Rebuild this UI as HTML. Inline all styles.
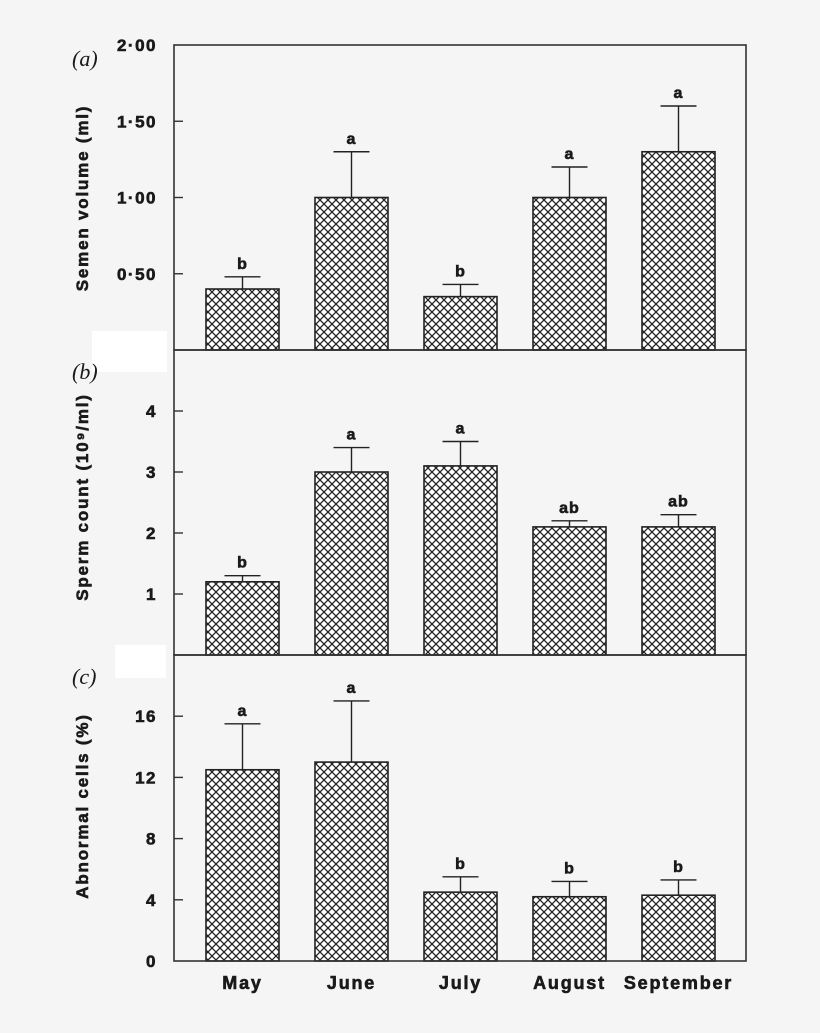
<!DOCTYPE html>
<html><head><meta charset="utf-8"><style>
html,body{margin:0;padding:0;background:#f5f5f5;}
svg{display:block;}
text{font-family:"Liberation Sans",Arial,sans-serif;font-weight:bold;fill:#1a1a1a;stroke:#1a1a1a;stroke-width:0.6;}
.pl{font-family:"Liberation Serif",serif;font-weight:normal;font-style:italic;font-size:22px;stroke:none;}
</style></head><body>
<svg id="chart" width="820" height="1033" viewBox="0 0 820 1033">
<defs>
<pattern id="hatch" patternUnits="userSpaceOnUse" width="8" height="8" x="0" y="0">
<rect width="8" height="8" fill="#fff"/>
<path d="M0,0 L8,8 M-1,7 L1,9 M7,-1 L9,1 M8,0 L0,8 M-1,1 L1,-1 M7,9 L9,7" stroke="#222" stroke-width="1.3"/>
</pattern>
</defs>
<rect x="92" y="331" width="75" height="41" fill="#fff"/>
<rect x="115" y="645" width="51" height="33" fill="#fff"/>
<g id="plots"></g>
</svg>
<script>
const categories = ["May","June","July","August","September"];
const volumeMeans = [0.40,1.00,0.35,1.00,1.30];
const volumeErr = [0.48,1.30,0.43,1.20,1.60];
const volumeLetters = ["b","a","b","a","a"];
const volumeTicks = [0.5,1.0,1.5,2.0];
const volumeTickLabels = ["0·50","1·00","1·50","2·00"];
const countMeans = [1.2,3.0,3.1,2.1,2.1];
const countErr = [1.3,3.4,3.5,2.2,2.3];
const countLetters = ["b","a","a","ab","ab"];
const countTicks = [1,2,3,4];
const countTickLabels = ["1","2","3","4"];
const abnMeans = [12.5,13.0,4.5,4.2,4.3];
const abnErr = [15.5,17.0,5.5,5.2,5.3];
const abnLetters = ["a","a","b","b","b"];
const abnTicks = [0,4,8,12,16];
const abnTickLabels = ["0","4","8","12","16"];

const NS="http://www.w3.org/2000/svg";
const g=document.getElementById('plots');
const L=174,R=746,barW=73,step=109,firstX=206;
function mk(tag,attrs,parent){const e=document.createElementNS(NS,tag);for(const k in attrs)e.setAttribute(k,attrs[k]);(parent||g).appendChild(e);return e;}
function xPos(i){return firstX+i*step;}

const panels=[
 {name:"volume",top:45,bottom:350,max:2.0,means:volumeMeans,err:volumeErr,letters:volumeLetters,ticks:volumeTicks,labels:volumeTickLabels,title:"Semen volume (ml)",pl:"(a)",plY:66,tY:198},
 {name:"count",top:350,bottom:655,max:5.0,means:countMeans,err:countErr,letters:countLetters,ticks:countTicks,labels:countTickLabels,title:"Sperm count (10⁹/ml)",pl:"(b)",plY:379,tY:497},
 {name:"abnormal",top:655,bottom:961,max:20.0,means:abnMeans,err:abnErr,letters:abnLetters,ticks:abnTicks,labels:abnTickLabels,title:"Abnormal cells (%)",pl:"(c)",plY:684,tY:806}
];

panels.forEach(p=>{
 const pg=mk('g',{});
 
 
 const y=v=>p.bottom-(v/p.max)*(p.bottom-p.top);
 p.means.forEach((m,i)=>{
  const x=xPos(i),cx=x+barW/2;
  const ey=y(p.err[i]);
  const el=mk('line',{x1:cx,x2:cx,y1:ey,y2:y(m),stroke:'#222','stroke-width':1.4},pg);
  
  
  const cap=mk('line',{x1:cx-18,x2:cx+18,y1:ey,y2:ey,stroke:'#222','stroke-width':1.4},pg);
  
  
  const b=mk('rect',{x:x,y:y(m),width:barW,height:p.bottom-y(m),fill:'url(#hatch)',stroke:'#222','stroke-width':1.6},pg);
  
  
  const t=mk('text',{x:cx,y:ey-8,'text-anchor':'middle','font-size':16,'letter-spacing':1},pg);
  t.textContent=p.letters[i];
  
  
 });
 const fr=mk('rect',{x:L,y:p.top,width:R-L,height:p.bottom-p.top,fill:'none',stroke:'#333','stroke-width':1.6},pg);
 
 
 p.ticks.forEach((v,k)=>{
  const ty=y(v);
  if(v>0&&v<p.max){const tk=mk('line',{x1:L,x2:L+9,y1:ty,y2:ty,stroke:'#333','stroke-width':1.4},pg);
   
   }
  const tl=mk('text',{x:157,y:ty+6,'text-anchor':'end','font-size':17,'letter-spacing':1.5},pg);
  tl.textContent=p.labels[k];
  
  
 });
 const yt=mk('text',{x:0,y:0,'text-anchor':'middle','font-size':17,'letter-spacing':1.8,transform:'translate(88,'+p.tY+') rotate(-90)'},pg);
 yt.textContent=p.title;
 
 
 const pl=mk('text',{x:72,y:p.plY,'class':'pl'},pg);
 pl.textContent=p.pl;
 
 
});
categories.forEach((c,i)=>{
 const t=mk('text',{x:xPos(i)+barW/2,y:989,'text-anchor':'middle','font-size':18,'letter-spacing':1.8});
 t.textContent=c;
 
 
});
</script>
</body></html>
